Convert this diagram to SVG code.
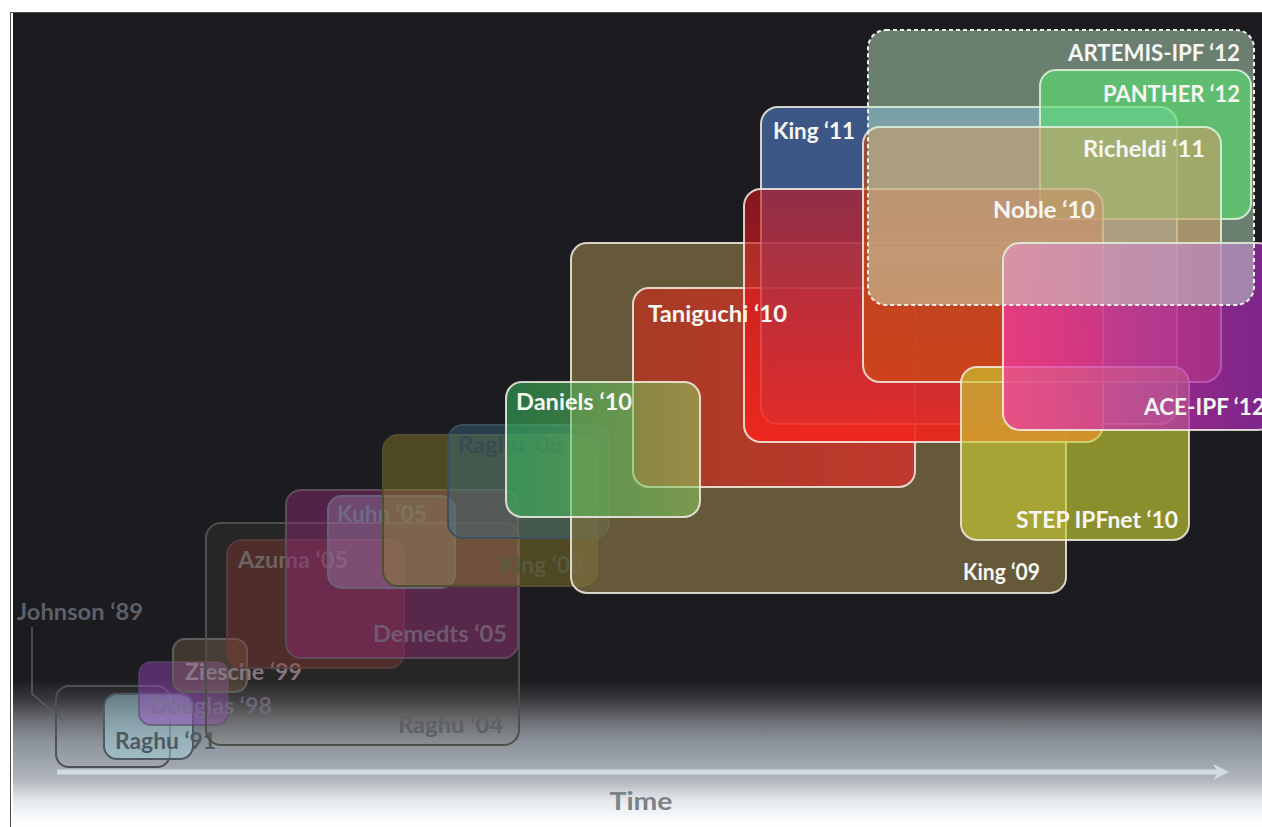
<svg xmlns="http://www.w3.org/2000/svg" width="1262" height="827" viewBox="0 0 1262 827">
<defs>
  <linearGradient id="bgGrad" gradientUnits="userSpaceOnUse" x1="0" y1="680" x2="0" y2="827">
    <stop offset="0" stop-color="#1c1b20"/>
    <stop offset="0.136" stop-color="#3a3a3e"/>
    <stop offset="0.272" stop-color="#6a6c72"/>
    <stop offset="0.408" stop-color="#8a9098"/>
    <stop offset="0.544" stop-color="#9ca2aa"/>
    <stop offset="0.68" stop-color="#b0b6bc"/>
    <stop offset="0.816" stop-color="#e4e8ec"/>
    <stop offset="0.952" stop-color="#fafcfe"/>
    <stop offset="1" stop-color="#ffffff"/>
  </linearGradient>
  <linearGradient id="tanGrad" x1="0" y1="0" x2="1" y2="0">
    <stop offset="0" stop-color="#b63421"/>
    <stop offset="1" stop-color="#d8302a"/>
  </linearGradient>
  <linearGradient id="nobleGrad" x1="0" y1="0" x2="0" y2="1">
    <stop offset="0" stop-color="#c8141e" stop-opacity="0.6"/>
    <stop offset="1" stop-color="#f4261c" stop-opacity="0.9"/>
  </linearGradient>
  <linearGradient id="aceGrad" x1="0" y1="0" x2="1" y2="0">
    <stop offset="0" stop-color="#f03aa0"/>
    <stop offset="1" stop-color="#9a28b0"/>
  </linearGradient>
  <linearGradient id="danGrad" x1="0" y1="0" x2="1" y2="0">
    <stop offset="0" stop-color="#32be5f"/>
    <stop offset="1" stop-color="#8ccd5f"/>
  </linearGradient>
  <marker id="arrowHead" markerUnits="userSpaceOnUse" markerWidth="20" markerHeight="20" viewBox="0 0 20 20" refX="5" refY="9" orient="auto">
    <path d="M0,1 L16,9 L0,17 L5,9 Z" fill="#d0dce6"/>
  </marker>
  <style>
    .lbl { font-family: Lato, 'Open Sans', 'Liberation Sans', sans-serif; font-weight: bold; font-size: 22px; }
    .new { stroke: #f2eee4; stroke-opacity: 0.85; stroke-width: 2; }
    .old { stroke-width: 2; }
    .wt { fill: #f6f6f2; }
  </style>
</defs>

<!-- background -->
<rect x="0" y="0" width="1262" height="827" fill="#ffffff"/>
<rect x="13" y="13" width="1249" height="814" fill="url(#bgGrad)"/>
<line x1="10.5" y1="12" x2="10.5" y2="827" stroke="#4a4a4a" stroke-width="1"/>
<line x1="10" y1="12.5" x2="1262" y2="12.5" stroke="#4a4a4a" stroke-width="1"/>

<g id="connectors">
  <polyline points="32,627 32,694 64,721" fill="none" stroke="#5a5e64" stroke-width="1.5"/>
  <line x1="57" y1="772" x2="1218" y2="772" stroke="#d0dce6" stroke-width="5" marker-end="url(#arrowHead)"/>
</g>

<g id="n-johnson89">
  <rect class="old" x="56" y="686" width="114" height="81" rx="13" fill="none" stroke="#4e5258"/>
  <text class="lbl" x="17" y="620" fill="#5c6068" textLength="126" lengthAdjust="spacingAndGlyphs">Johnson ‘89</text>
</g>

<g id="n-raghu91">
  <rect class="old" x="104" y="694" width="89" height="65" rx="13" fill="#a8dce6" fill-opacity="0.45" stroke="#4e5a60"/>
  <text class="lbl" x="115" y="749" fill="#4e5a62" textLength="101" lengthAdjust="spacingAndGlyphs">Raghu ‘91</text>
</g>

<g id="n-douglas98">
  <rect class="old" x="139" y="662" width="89" height="63" rx="12" fill="#9a4ac0" fill-opacity="0.45" stroke="#5a4a6a" stroke-opacity="0.6"/>
  <text class="lbl" x="150" y="714" fill="#7a6e8e" fill-opacity="0.75" textLength="122" lengthAdjust="spacingAndGlyphs">Douglas ‘98</text>
</g>

<g id="n-ziesche99">
  <rect class="old" x="173" y="639" width="74" height="53" rx="12" fill="#8a6a50" fill-opacity="0.35" stroke="#5e5e5e"/>
  <text class="lbl" x="185" y="680" fill="#8a7888" textLength="117" lengthAdjust="spacingAndGlyphs">Ziesche ‘99</text>
</g>

<g id="n-raghu04">
  <rect class="old" x="206" y="523" width="313" height="222" rx="15" fill="#6a6a50" fill-opacity="0.15" stroke="#4e4e4c"/>
  <text class="lbl" x="503" y="733" text-anchor="end" fill="#5e6066" textLength="105" lengthAdjust="spacingAndGlyphs">Raghu ‘04</text>
</g>

<g id="n-azuma05">
  <rect class="old" x="227" y="540" width="177" height="128" rx="15" fill="#8a3a30" fill-opacity="0.4" stroke="#5a4240" stroke-opacity="0.8"/>
  <text class="lbl" x="238" y="568" fill="#6e6462" textLength="110" lengthAdjust="spacingAndGlyphs">Azuma ‘05</text>
</g>

<g id="n-demedts05">
  <rect class="old" x="286" y="490" width="232" height="168" rx="15" fill="#8a2a70" fill-opacity="0.5" stroke="#5e4a5a"/>
  <text class="lbl" x="507" y="642" text-anchor="end" fill="#6e5a6e" textLength="134" lengthAdjust="spacingAndGlyphs">Demedts ‘05</text>
</g>

<g id="n-kuhn05">
  <rect class="old" x="328" y="496" width="127" height="92" rx="14" fill="#a090b8" fill-opacity="0.35" stroke="#6a6278"/>
  <text class="lbl" x="337" y="522" fill="#6e6a84" textLength="90" lengthAdjust="spacingAndGlyphs">Kuhn ‘05</text>
</g>

<g id="n-king08">
  <rect class="old" x="383" y="435" width="214" height="151" rx="15" fill="#8c8228" fill-opacity="0.45" stroke="#505030"/>
  <text class="lbl" x="583" y="573" text-anchor="end" fill="#5a5a40" textLength="83" lengthAdjust="spacingAndGlyphs">King ‘08</text>
</g>

<g id="n-raghu08">
  <rect class="old" x="448" y="425" width="161" height="113" rx="15" fill="#3a6a80" fill-opacity="0.45" stroke="#3e4e5e"/>
  <text class="lbl" x="458" y="453" fill="#3a4a52" textLength="105" lengthAdjust="spacingAndGlyphs">Raghu ‘08</text>
</g>

<g id="n-king09">
  <rect class="new" x="571" y="243" width="495" height="350" rx="16" fill="#7f6f43" fill-opacity="0.75"/>
</g>

<g id="n-taniguchi10">
  <rect class="new" x="633" y="288" width="282" height="199" rx="16" fill="url(#tanGrad)" fill-opacity="0.8"/>
</g>

<g id="n-daniels10">
  <rect class="new" x="506" y="382" width="194" height="135" rx="16" fill="url(#danGrad)" fill-opacity="0.55"/>
</g>

<g id="n-king11">
  <rect class="new" x="761" y="107" width="416" height="317" rx="17" fill="#4a70b0" fill-opacity="0.7"/>
</g>

<g id="n-panther12">
  <rect class="new" x="1040" y="70" width="211" height="149" rx="16" fill="#00c81e" fill-opacity="0.65"/>
</g>

<g id="n-noble10">
  <rect class="new" x="744" y="189" width="359" height="253" rx="17" fill="url(#nobleGrad)"/>
</g>

<g id="n-richeldi11">
  <rect class="new" x="863" y="127" width="358" height="255" rx="17" fill="#c8500e" fill-opacity="0.62"/>
</g>

<g id="n-step10">
  <rect class="new" x="961" y="367" width="228" height="173" rx="16" fill="#c8cd32" fill-opacity="0.65"/>
</g>

<g id="n-aceipf12">
  <rect class="new" x="1003" y="243" width="272" height="187" rx="17" fill="url(#aceGrad)" fill-opacity="0.75"/>
</g>

<g id="n-artemis12">
  <rect x="868" y="30" width="386" height="275" rx="18" fill="#c9fbd2" fill-opacity="0.45" stroke="#eef0ec" stroke-width="2" stroke-dasharray="4 3"/>
</g>

<g id="labels">
  <text id="l-king09" class="lbl wt" x="1040" y="580" text-anchor="end" textLength="77" lengthAdjust="spacingAndGlyphs">King ‘09</text>
  <text id="l-taniguchi10" class="lbl wt" x="648" y="322" textLength="139" lengthAdjust="spacingAndGlyphs">Taniguchi ‘10</text>
  <text id="l-daniels10" class="lbl wt" x="516" y="410" textLength="116" lengthAdjust="spacingAndGlyphs">Daniels ‘10</text>
  <text id="l-king11" class="lbl wt" x="773" y="139" textLength="82" lengthAdjust="spacingAndGlyphs">King ‘11</text>
  <text id="l-panther12" class="lbl wt" x="1240" y="102" text-anchor="end" textLength="137" lengthAdjust="spacingAndGlyphs">PANTHER ‘12</text>
  <text id="l-noble10" class="lbl wt" x="1095" y="218" text-anchor="end" textLength="102" lengthAdjust="spacingAndGlyphs">Noble ‘10</text>
  <text id="l-richeldi11" class="lbl wt" x="1205" y="157" text-anchor="end" textLength="122" lengthAdjust="spacingAndGlyphs">Richeldi ‘11</text>
  <text id="l-step10" class="lbl wt" x="1178" y="528" text-anchor="end" textLength="162" lengthAdjust="spacingAndGlyphs">STEP IPFnet ‘10</text>
  <text id="l-aceipf12" class="lbl wt" x="1144" y="415" textLength="121" lengthAdjust="spacingAndGlyphs">ACE-IPF ‘12</text>
  <text id="l-artemis12" class="lbl wt" x="1240" y="61" text-anchor="end" textLength="172" lengthAdjust="spacingAndGlyphs">ARTEMIS-IPF ‘12</text>
  <text id="l-time" x="641" y="810" text-anchor="middle" font-family="Lato, 'Open Sans', 'Liberation Sans', sans-serif" font-weight="bold" font-size="25" fill="#7c828a" textLength="63" lengthAdjust="spacingAndGlyphs">Time</text>
</g>
</svg>
